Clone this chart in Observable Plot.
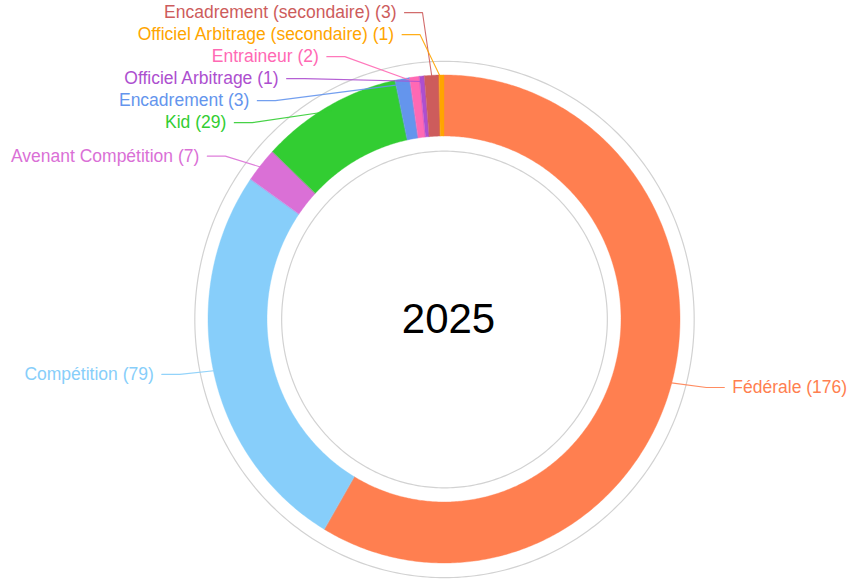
<!DOCTYPE html>
<html><head><meta charset="utf-8">
<script src="https://cdn.jsdelivr.net/npm/d3@7"></script>
<script src="https://cdn.jsdelivr.net/npm/@observablehq/plot@0.6"></script>
<style>html,body{margin:0;padding:0;background:#fff;}</style>
</head><body><div id="chart"></div>
<script>
// ---- data ----
const categories = ["Fédérale","Compétition","Avenant Compétition","Kid","Encadrement","Entraineur","Officiel Arbitrage","Encadrement (secondaire)","Officiel Arbitrage (secondaire)"];
const counts = [176, 79, 7, 29, 3, 2, 1, 3, 1];
const colors = ["#FF7F50","#87CEFA","#DA70D6","#32CD32","#6495ED","#FF69B4","#AD4FCF","#CD5C5C","#FFA500"];
const labelStack = ["Encadrement (secondaire)","Officiel Arbitrage (secondaire)","Entraineur","Officiel Arbitrage","Encadrement","Kid","Avenant Compétition","Compétition"];
const centerLabel = "2025";

// ---- layout ----
const W = 851, H = 579, CX = 444, CY = 319, RXpx = 236, RYpx = 244;
const INNER = 0.75, GRAY_OUT = 1.058, GRAY_IN = 0.69;
const LABEL_R = 288, TEXT_PAD = 8, ELBOW = 18, GAP = 22, MIN_DX = 40, DESIRED_R = 1.06;
const FONT = "'Liberation Sans', Arial, Helvetica, sans-serif";

const total = d3.sum(counts);
let cum = 0;
const slices = categories.map((c, i) => {
  const a0 = cum / total * 2 * Math.PI; cum += counts[i];
  const a1 = cum / total * 2 * Math.PI;
  return {cat: c, value: counts[i], a0, a1, mid: (a0 + a1) / 2};
});

const wedge = [];
for (const s of slices) {
  const n = Math.max(2, Math.ceil((s.a1 - s.a0) / 0.01));
  for (let k = 0; k <= n; k++) {
    const t = s.a0 + (s.a1 - s.a0) * k / n;
    wedge.push({cat: s.cat, x1: Math.sin(t) * INNER, y1: Math.cos(t) * INNER, x2: Math.sin(t), y2: Math.cos(t)});
  }
}

const rings = [];
for (const [name, r] of [["out", GRAY_OUT], ["in", GRAY_IN]]) {
  for (let k = 0; k <= 360; k++) {
    const t = k / 360 * 2 * Math.PI;
    rings.push({ring: name, x: Math.sin(t) * r, y: Math.cos(t) * r});
  }
}

// cluster relaxation: overlapping labels are merged and centred on their mean
function relax(items, gap) {
  const clusters = items.map(it => ({items: [it], sum: it.desired}));
  let merged = true;
  while (merged) {
    merged = false;
    for (let i = 1; i < clusters.length; i++) {
      const a = clusters[i - 1], b = clusters[i];
      const aBottom = a.sum / a.items.length + (a.items.length - 1) / 2 * gap;
      const bTop = b.sum / b.items.length - (b.items.length - 1) / 2 * gap;
      if (bTop - aBottom < gap) {
        a.items.push(...b.items); a.sum += b.sum;
        clusters.splice(i, 1); merged = true; break;
      }
    }
  }
  for (const c of clusters) {
    const start = c.sum / c.items.length - (c.items.length - 1) / 2 * gap;
    c.items.forEach((it, i) => it.dy = start + i * gap);
  }
}

const labelItems = slices.map(s => ({
  s, side: Math.sin(s.mid) < 0 ? -1 : 1,
  desired: -Math.cos(s.mid) * DESIRED_R * RYpx
}));
const leftItems = labelItems.filter(d => d.side < 0)
  .sort((a, b) => labelStack.indexOf(a.s.cat) - labelStack.indexOf(b.s.cat));
const rightItems = labelItems.filter(d => d.side > 0).sort((a, b) => a.desired - b.desired);
relax(leftItems, GAP);
relax(rightItems, GAP);

const labels = labelItems.map(({s, side, dy}) => {
  const dx = side * Math.max(MIN_DX, Math.sqrt(Math.max(0, LABEL_R * LABEL_R - dy * dy)));
  return {
    cat: s.cat, side,
    text: `${s.cat} (${s.value})`,
    lx: dx / RXpx, ly: -dy / RYpx,
    ex: (dx - side * ELBOW) / RXpx,
    tx: (dx + side * TEXT_PAD) / RXpx,
    ax: Math.sin(s.mid) * 0.98, ay: Math.cos(s.mid) * 0.98
  };
});
const leaders = labels.flatMap(l => [
  {cat: l.cat, x: l.lx, y: l.ly},
  {cat: l.cat, x: l.ex, y: l.ly},
  {cat: l.cat, x: l.ax, y: l.ay}
]);

const chart = Plot.plot({
  width: W, height: H,
  margin: 0,
  style: {fontFamily: FONT, fontSize: "17.5px", background: "#fff"},
  x: {domain: [-1, 1], range: [CX - RXpx, CX + RXpx], axis: null},
  y: {domain: [-1, 1], range: [CY + RYpx, CY - RYpx], axis: null},
  color: {domain: categories, range: colors},
  marks: [
    Plot.line(rings, {x: "x", y: "y", z: "ring", stroke: "#d2d2d2", strokeWidth: 1.2}),
    Plot.area(wedge, {x1: "x1", y1: "y1", x2: "x2", y2: "y2", z: "cat", fill: "cat", stroke: "cat", strokeWidth: 0.4}),
    Plot.line(leaders, {x: "x", y: "y", z: "cat", stroke: "cat", strokeWidth: 1.1, strokeOpacity: 0.9}),
    Plot.text(labels.filter(l => l.side < 0), {x: "tx", y: "ly", text: "text", fill: "cat", textAnchor: "end"}),
    Plot.text(labels.filter(l => l.side > 0), {x: "tx", y: "ly", text: "text", fill: "cat", textAnchor: "start"}),
    Plot.text([centerLabel], {x: () => 0, y: () => 0, text: d => d, fontSize: 42, fill: "#000", dx: 4})
  ]
});
document.getElementById("chart").append(chart);
</script>
</body></html>
